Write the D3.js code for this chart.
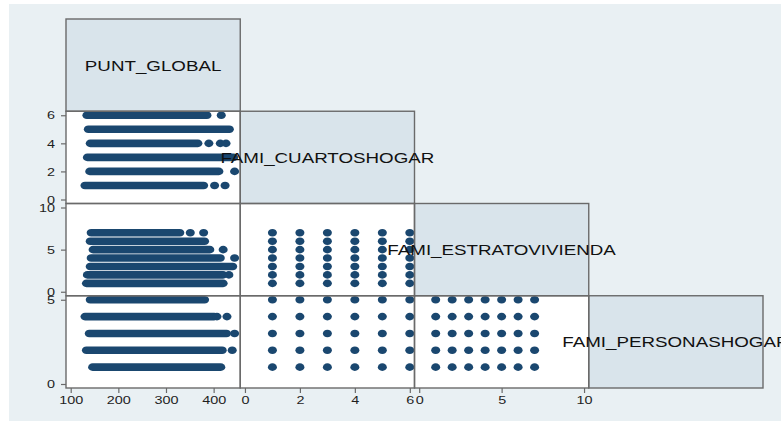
<!DOCTYPE html>
<html><head><meta charset="utf-8">
<script src="https://cdn.jsdelivr.net/npm/d3@7"></script>
<style>body{margin:0;background:#fff}svg{display:block}</style>
</head><body><svg id="c" width="781" height="421"></svg>
<script>
// ---------- data ----------
const variables = ["PUNT_GLOBAL", "FAMI_CUARTOSHOGAR", "FAMI_ESTRATOVIVIENDA", "FAMI_PERSONASHOGAR"];
const axisDomains = [[100, 446], [0, 6], [0, 10], [0, 5]];
const tickValues = [[100, 200, 300, 400], [0, 2, 4, 6], [0, 5, 10], [0, 5]];

const cuartosLevels = [1, 2, 3, 4, 5, 6];
const estratoLevels = [1, 2, 3, 4, 5, 6, 7];
const personasLevels = [1, 2, 3, 4, 5];

// dense runs of PUNT_GLOBAL markers: [level, first PUNT_GLOBAL, last PUNT_GLOBAL]
const puntCuartosRuns = [[6, 134, 386], [5, 137, 433], [4, 141, 367], [3, 135, 442], [2, 140, 411], [1, 130, 379]];
const puntCuartosSingles = [[6, 416], [4, 390], [4, 414], [4, 426], [2, 444], [1, 402], [1, 424]];

const puntEstratoRuns = [[7, 143, 329], [6, 141, 381], [5, 147, 392], [4, 143, 414], [3, 141, 440], [2, 135, 420], [1, 133, 420]];
const puntEstratoSingles = [[7, 351], [7, 379], [5, 420], [4, 444], [2, 432]];

const puntPersonasRuns = [[5, 141, 381], [4, 130, 401], [3, 139, 427], [2, 133, 418], [1, 146, 415]];
const puntPersonasSingles = [[4, 407], [4, 428], [3, 444], [2, 439]];

// ---------- layout ----------
const svg = d3.select("#c");
const L = 66, T = 19, CW = 174.25, CH = 92.25, padX = 4.7, padY = 4;
const RX = 4.5, RY = 3.8, STRETCH = 1.25;
const C_MARK = "#1a476f", C_BG = "#e9f0f3", C_DIAG = "#d9e4eb", C_LINE = "#6a6a6a", C_TXT = "#1e1e1e";

const xScale = j => d3.scaleLinear().domain(axisDomains[j]).range([L + j * CW + padX, L + (j + 1) * CW - padX]);
const yScale = i => d3.scaleLinear().domain(axisDomains[i]).range([T + (i + 1) * CH - padY, T + i * CH + padY]);

function stretch(sel) {
  sel.each(function () {
    const w = this.getComputedTextLength();
    this.setAttribute("textLength", w * STRETCH);
    this.setAttribute("lengthAdjust", "spacingAndGlyphs");
  });
}

svg.append("rect").attr("x", 9).attr("y", 4).attr("width", 772).attr("height", 417).attr("fill", C_BG);

// cell fills
const cells = [];
for (let i = 0; i < 4; i++) for (let j = 0; j <= i; j++) cells.push({ i, j });
svg.append("g").selectAll("rect").data(cells).join("rect")
  .attr("x", d => L + d.j * CW).attr("y", d => T + d.i * CH)
  .attr("width", CW).attr("height", CH)
  .attr("fill", d => d.i === d.j ? C_DIAG : "#fff");

const marks = svg.append("g").attr("fill", C_MARK);

function drawRuns(runs, singles, row) {
  const xs = xScale(0), ys = yScale(row);
  marks.append("g").selectAll("rect").data(runs).join("rect")
    .attr("x", d => xs(d[1]) - RX).attr("y", d => ys(d[0]) - RY)
    .attr("width", d => xs(d[2]) - xs(d[1]) + 2 * RX).attr("height", 2 * RY)
    .attr("rx", RX).attr("ry", RY);
  marks.append("g").selectAll("ellipse").data(singles).join("ellipse")
    .attr("cx", d => xs(d[1])).attr("cy", d => ys(d[0])).attr("rx", RX).attr("ry", RY);
}
drawRuns(puntCuartosRuns, puntCuartosSingles, 1);
drawRuns(puntEstratoRuns, puntEstratoSingles, 2);
drawRuns(puntPersonasRuns, puntPersonasSingles, 3);

function drawGrid(xLevels, yLevels, col, row) {
  const xs = xScale(col), ys = yScale(row);
  marks.append("g").selectAll("ellipse").data(d3.cross(xLevels, yLevels)).join("ellipse")
    .attr("cx", d => xs(d[0])).attr("cy", d => ys(d[1])).attr("rx", RX).attr("ry", RY);
}
drawGrid(cuartosLevels, estratoLevels, 1, 2);
drawGrid(cuartosLevels, personasLevels, 1, 3);
drawGrid(estratoLevels, personasLevels, 2, 3);

// cell borders
svg.append("g").selectAll("rect").data(cells).join("rect")
  .attr("x", d => L + d.j * CW).attr("y", d => T + d.i * CH)
  .attr("width", CW).attr("height", CH)
  .attr("fill", "none").attr("stroke", C_LINE).attr("stroke-width", 1.4);

// axes
function styleAxis(g) {
  g.select(".domain").remove();
  g.selectAll(".tick line").attr("stroke", C_LINE).attr("stroke-width", 1.2);
  g.selectAll(".tick text").attr("fill", C_TXT)
    .style("font-family", "'Liberation Sans', Arial, sans-serif").style("font-size", "11.5px");
  stretch(g.selectAll(".tick text"));
}
for (let i = 1; i < 4; i++) {
  svg.append("g").attr("transform", `translate(${L},0)`)
    .call(d3.axisLeft(yScale(i)).tickValues(tickValues[i]).tickSize(5).tickPadding(6).tickFormat(d3.format("d")))
    .call(styleAxis);
}
for (let j = 0; j < 3; j++) {
  svg.append("g").attr("transform", `translate(0,${T + 4 * CH})`)
    .call(d3.axisBottom(xScale(j)).tickValues(tickValues[j]).tickSize(5).tickPadding(3).tickFormat(d3.format("d")))
    .call(styleAxis);
}

// diagonal labels
const labels = svg.append("g").selectAll("text").data(variables).join("text")
  .attr("x", (d, k) => L + k * CW + CW / 2).attr("y", (d, k) => T + k * CH + CH / 2 + 5.5)
  .attr("text-anchor", "middle").attr("fill", "#111")
  .style("font-family", "'Liberation Sans', Arial, sans-serif").style("font-size", "15px")
  .text(d => d);
stretch(labels);
</script></body></html>
